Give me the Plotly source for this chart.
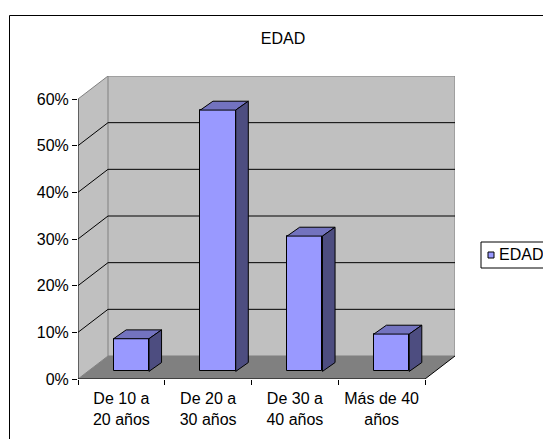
import plotly.graph_objects as go

# ---- data ----
categories = ["De 10 a<br>20 años", "De 20 a<br>30 años", "De 30 a<br>40 años", "Más de 40<br>años"]
values = [0.07, 0.56, 0.29, 0.08]
y_tick_vals = [0, 0.1, 0.2, 0.3, 0.4, 0.5, 0.6]
y_tick_text = ["0%", "10%", "20%", "30%", "40%", "50%", "60%"]
series_name = "EDAD"
chart_title = "EDAD"

# ---- style (pseudo 3D geometry, in axis units) ----
DX, DY = 0.3458, 0.0493      # wall depth offset
D0 = 0.33                    # depth fraction of the bar front faces
BW = 0.408                   # bar width
BDX, BDY = 0.145, 0.019      # bar depth offset
FONT = "Liberation Sans, Arial, sans-serif"
FRONT_C, TOP_C, SIDE_C = "#9999FF", "#7373BF", "#4D4D80"
WALL_C, FLOOR_C, EDGE_C = "#C0C0C0", "#808080", "#808080"

n = len(categories)
x0, x1 = -0.5, n - 0.5
ymax = y_tick_vals[-1]

W, H = 543, 439
ML, MR, MT, MB = 78, 88, 76, 60
PW, PH = W - ML - MR, H - MT - MB


def px(xpix):
    return (xpix - ML) / PW


def py(ypix):
    return (H - MB - ypix) / PH


shapes = []
# left wall
shapes.append(dict(type="path", xref="x", yref="y", layer="below",
                   path=f"M{x0},0 L{x0},{ymax} L{x0+DX},{ymax+DY} L{x0+DX},{DY} Z",
                   fillcolor=WALL_C, line=dict(width=0)))
# back wall
shapes.append(dict(type="rect", xref="x", yref="y", layer="below",
                   x0=x0 + DX, x1=x1 + DX, y0=DY, y1=ymax + DY,
                   fillcolor=WALL_C, line=dict(color=EDGE_C, width=1)))
# floor
shapes.append(dict(type="path", xref="x", yref="y", layer="below",
                   path=f"M{x0},0 L{x1},0 L{x1+DX},{DY} L{x0+DX},{DY} Z",
                   fillcolor=FLOOR_C, line=dict(width=0)))
# gridlines
for t in y_tick_vals[1:-1]:
    shapes.append(dict(type="line", xref="x", yref="y", layer="below",
                       x0=x0 + DX, x1=x1 + DX, y0=t + DY, y1=t + DY,
                       line=dict(color="black", width=1)))
    shapes.append(dict(type="line", xref="x", yref="y", layer="below",
                       x0=x0, x1=x0 + DX, y0=t, y1=t + DY,
                       line=dict(color="black", width=1)))
# wall / floor edges
shapes.append(dict(type="line", xref="x", yref="y", layer="below",
                   x0=x0, x1=x0 + DX, y0=ymax, y1=ymax + DY,
                   line=dict(color=EDGE_C, width=1)))
shapes.append(dict(type="line", xref="x", yref="y", layer="below",
                   x0=x0, x1=x0 + DX, y0=0, y1=DY,
                   line=dict(color=EDGE_C, width=1)))
shapes.append(dict(type="line", xref="x", yref="y", layer="below",
                   x0=x1, x1=x1 + DX, y0=0, y1=DY,
                   line=dict(color="black", width=1)))
# front axes
shapes.append(dict(type="line", xref="x", yref="y",
                   x0=x0, x1=x0, y0=0, y1=ymax, line=dict(color="black", width=1)))
shapes.append(dict(type="line", xref="x", yref="y",
                   x0=x0, x1=x1, y0=0, y1=0, line=dict(color="black", width=1)))
# outer chart border
shapes.append(dict(type="rect", xref="paper", yref="paper",
                   x0=px(9.5), x1=px(W + 20), y0=py(H + 20), y1=py(15.5),
                   line=dict(color="black", width=1), fillcolor="rgba(0,0,0,0)"))
# manual legend
shapes.append(dict(type="rect", xref="paper", yref="paper",
                   x0=px(481), x1=px(W + 20), y0=py(268), y1=py(242),
                   line=dict(color="black", width=1), fillcolor="white"))
shapes.append(dict(type="rect", xref="paper", yref="paper",
                   x0=px(488), x1=px(494), y0=py(258), y1=py(252),
                   line=dict(color="black", width=1), fillcolor=FRONT_C))

fig = go.Figure()

bar_x = [i + D0 * DX for i in range(n)]
base = D0 * DY
fig.add_trace(go.Bar(x=bar_x, y=values, base=[base] * n, width=BW, name=series_name,
                     marker=dict(color=FRONT_C, line=dict(color="black", width=1)),
                     showlegend=False, hoverinfo="skip"))

for bx, v in zip(bar_x, values):
    xl, xr = bx - BW / 2, bx + BW / 2
    yt = base + v
    fig.add_trace(go.Scatter(x=[xl, xr, xr + BDX, xl + BDX, xl],
                             y=[yt, yt, yt + BDY, yt + BDY, yt],
                             mode="lines", fill="toself", fillcolor=TOP_C,
                             line=dict(color="black", width=1),
                             showlegend=False, hoverinfo="skip"))
    fig.add_trace(go.Scatter(x=[xr, xr + BDX, xr + BDX, xr, xr],
                             y=[base, base + BDY, yt + BDY, yt, base],
                             mode="lines", fill="toself", fillcolor=SIDE_C,
                             line=dict(color="black", width=1),
                             showlegend=False, hoverinfo="skip"))

# tick marks on category boundaries (secondary overlaid axis)
fig.add_trace(go.Scatter(x=[x0, x1], y=[None, None], xaxis="x2", showlegend=False,
                         hoverinfo="skip"))

fig.update_layout(
    width=W, height=H,
    margin=dict(l=ML, r=MR, t=MT, b=MB),
    paper_bgcolor="white", plot_bgcolor="white",
    font=dict(family=FONT, size=16, color="black"),
    title=dict(text=chart_title, x=283 / W, xref="container", xanchor="center",
               y=1 - 38.5 / H, yref="container", yanchor="middle",
               font=dict(family=FONT, size=16, color="black")),
    showlegend=False,
    bargap=0,
    xaxis=dict(range=[x0, x1 + DX], type="linear", tickvals=list(range(n)),
               ticktext=categories, ticks="outside", ticklen=5,
               tickcolor="rgba(0,0,0,0)", showgrid=False, zeroline=False,
               showline=False, fixedrange=True,
               tickfont=dict(family=FONT, size=16, color="black")),
    xaxis2=dict(range=[x0, x1 + DX], overlaying="x", anchor="y", side="bottom",
                tickvals=[x0 + k for k in range(n + 1)], ticks="outside", ticklen=5,
                tickcolor="black", showticklabels=False, showgrid=False,
                zeroline=False, showline=False, fixedrange=True),
    yaxis=dict(range=[0, ymax + DY], tickvals=y_tick_vals, ticktext=y_tick_text,
               ticks="outside", ticklen=5, tickcolor="black", showgrid=False,
               zeroline=False, showline=False, fixedrange=True,
               tickfont=dict(family=FONT, size=16, color="black")),
    shapes=shapes,
    annotations=[dict(text=series_name, xref="paper", yref="paper",
                      x=px(497), y=py(255), xanchor="left", yanchor="middle",
                      showarrow=False, font=dict(family=FONT, size=16, color="black"))],
)

fig.write_html("out.html", config={"displayModeBar": False},
               post_script="document.body.style.margin='0px';document.body.style.overflow='hidden';")
